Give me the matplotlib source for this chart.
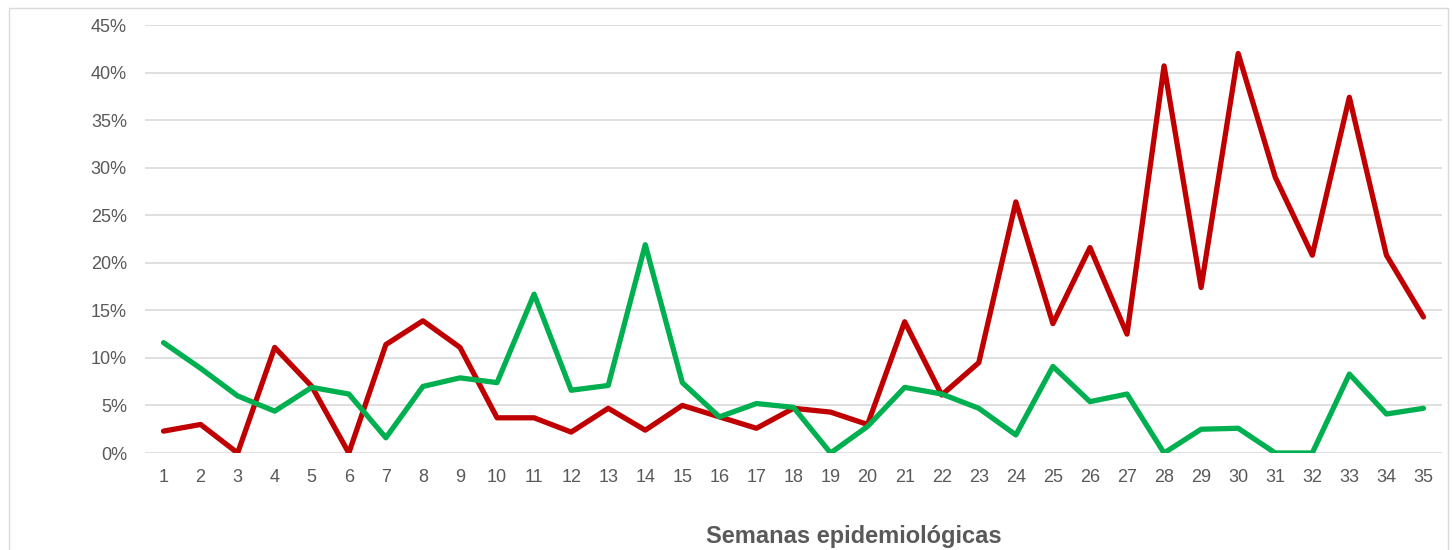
import matplotlib.pyplot as plt
from matplotlib.patches import Rectangle
from matplotlib.ticker import FuncFormatter, MultipleLocator

# semanas epidemiológicas
semanas = list(range(1, 36))

# porcentajes
serie_roja = [2.3, 3.0, 0.0, 11.1, 7.0, 0.0, 11.4, 13.9, 11.1, 3.7,
              3.7, 2.2, 4.7, 2.4, 5.0, 3.8, 2.6, 4.7, 4.3, 3.0,
              13.8, 6.1, 9.5, 26.4, 13.6, 21.6, 12.5, 40.7, 17.4, 42.0,
              29.0, 20.8, 37.4, 20.8, 14.3]
serie_verde = [11.6, 8.9, 6.0, 4.4, 6.9, 6.2, 1.6, 7.0, 7.9, 7.4,
               16.7, 6.6, 7.1, 21.9, 7.4, 3.8, 5.2, 4.8, 0.0, 2.8,
               6.9, 6.2, 4.7, 1.9, 9.1, 5.4, 6.2, 0.0, 2.5, 2.6,
               0.0, 0.0, 8.3, 4.1, 4.7]

plt.rcParams['font.family'] = ['Liberation Sans', 'DejaVu Sans']

fig = plt.figure(figsize=(14.52, 5.5), dpi=100)
W, H = 1452, 550

# marco del gráfico
fig.patches.append(Rectangle((9 / W, -0.1), 1439 / W, (H - 8) / H + 0.1,
                             transform=fig.transFigure, fill=False,
                             edgecolor='#D9D9D9', linewidth=1))

ax = fig.add_axes([145 / W, (H - 453) / H, (1442 - 145) / W, (453 - 25) / H])

ax.plot(semanas, serie_roja, color='#C00000', lw=3.8,
        solid_joinstyle='round', solid_capstyle='round', zorder=3)
ax.plot(semanas, serie_verde, color='#00B050', lw=3.8,
        solid_joinstyle='round', solid_capstyle='round', zorder=3)

ax.set_xlim(0.5, 35.5)
ax.set_ylim(0, 45)
ax.yaxis.set_major_locator(MultipleLocator(5))
ax.yaxis.set_major_formatter(FuncFormatter(lambda v, p: f'{v:.0f}%'))
ax.set_xticks(semanas)
ax.set_xticklabels([str(s) for s in semanas])

ax.grid(axis='y', color='#D9D9D9', lw=1.2)
ax.set_axisbelow(True)
for s in ax.spines.values():
    s.set_visible(False)
ax.tick_params(length=0, labelsize=13, labelcolor='#595959')
ax.tick_params(axis='x', pad=11.5)
ax.tick_params(axis='y', pad=13)

fig.text(854 / W, 1 - 537 / H, 'Semanas epidemiológicas', ha='center', va='center',
         fontsize=17, fontweight='bold', color='#595959')

fig.savefig('out.png', dpi=100)
